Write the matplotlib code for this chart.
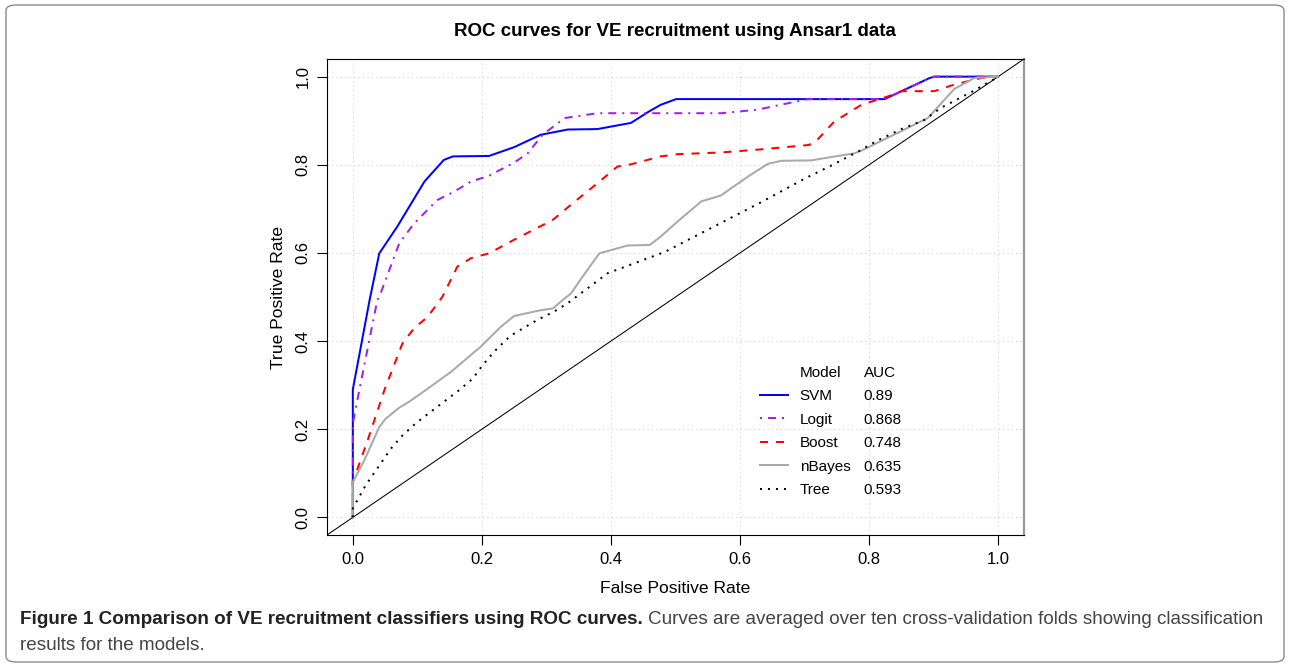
import matplotlib
matplotlib.use("Agg")
import matplotlib.pyplot as plt
from matplotlib.patches import FancyBboxPatch
from matplotlib.lines import Line2D

# ── data ──────────────────────────────────────────────────────────────────────
svm_fpr = [0, 0, 0.026, 0.041, 0.069, 0.111, 0.141, 0.155, 0.211, 0.25, 0.291,
           0.333, 0.379, 0.431, 0.459, 0.477, 0.501, 0.824, 0.894, 0.901, 1.0]
svm_tpr = [0, 0.29, 0.493, 0.599, 0.66, 0.762, 0.811, 0.819, 0.82, 0.84, 0.868,
           0.88, 0.881, 0.895, 0.921, 0.936, 0.949, 0.949, 0.997, 1.0, 1.0]

logit_fpr = [0, 0, 0.007, 0.038, 0.043, 0.072, 0.095, 0.131, 0.157, 0.183, 0.211,
             0.25, 0.271, 0.294, 0.328, 0.379, 0.477, 0.571, 0.627, 0.705, 0.824,
             0.894, 0.901, 1.0]
logit_tpr = [0, 0.213, 0.266, 0.493, 0.508, 0.622, 0.667, 0.72, 0.739, 0.762, 0.775,
             0.805, 0.826, 0.868, 0.906, 0.917, 0.917, 0.917, 0.925, 0.949, 0.949,
             0.997, 1.0, 1.0]

boost_fpr = [0, 0, 0.023, 0.049, 0.077, 0.095, 0.116, 0.139, 0.162, 0.183, 0.211,
             0.25, 0.31, 0.341, 0.379, 0.41, 0.431, 0.477, 0.503, 0.571, 0.633,
             0.707, 0.72, 0.746, 0.788, 0.829, 0.85, 0.901, 0.932, 0.974, 1.0]
boost_tpr = [0, 0.08, 0.175, 0.289, 0.395, 0.429, 0.455, 0.501, 0.569, 0.588, 0.599,
             0.63, 0.675, 0.713, 0.758, 0.796, 0.801, 0.819, 0.824, 0.828, 0.835,
             0.845, 0.857, 0.898, 0.936, 0.955, 0.967, 0.967, 0.982, 0.997, 1.0]

nbayes_fpr = [0, 0, 0.018, 0.041, 0.051, 0.072, 0.087, 0.116, 0.152, 0.198, 0.229,
              0.25, 0.291, 0.31, 0.325, 0.338, 0.356, 0.382, 0.426, 0.46, 0.477,
              0.503, 0.54, 0.57, 0.612, 0.643, 0.664, 0.71, 0.777, 0.788, 0.891,
              0.912, 0.932, 0.963, 1.0]
nbayes_tpr = [0, 0.08, 0.13, 0.205, 0.224, 0.249, 0.262, 0.292, 0.33, 0.387, 0.432,
              0.457, 0.47, 0.474, 0.493, 0.508, 0.546, 0.599, 0.617, 0.618, 0.637,
              0.671, 0.717, 0.73, 0.773, 0.802, 0.809, 0.81, 0.826, 0.832, 0.906,
              0.94, 0.972, 0.997, 1.0]

tree_fpr = [0, 0, 0.007, 0.02, 0.036, 0.059, 0.077, 0.098, 0.131, 0.165, 0.186,
            0.201, 0.219, 0.24, 0.25, 0.286, 0.312, 0.333, 0.395, 0.483, 0.63,
            0.702, 0.741, 0.788, 0.813, 0.85, 0.886, 0.911, 0.961, 0.997, 1.0]
tree_tpr = [0, 0.02, 0.039, 0.073, 0.107, 0.156, 0.186, 0.214, 0.251, 0.289, 0.315,
            0.345, 0.376, 0.406, 0.417, 0.448, 0.467, 0.486, 0.554, 0.602, 0.713,
            0.77, 0.798, 0.834, 0.855, 0.881, 0.902, 0.929, 0.967, 0.997, 1.0]

models = ["SVM", "Logit", "Boost", "nBayes", "Tree"]
aucs   = ["0.89", "0.868", "0.748", "0.635", "0.593"]
ticks  = [0.0, 0.2, 0.4, 0.6, 0.8, 1.0]

# ── styles ────────────────────────────────────────────────────────────────────
LW = 1.44
styles = {
    "SVM":    dict(color="#0000FF", linestyle="-"),
    "Logit":  dict(color="#A020F0", linestyle=(0, (1, 3, 4, 3))),
    "Boost":  dict(color="#FF0000", linestyle=(0, (4, 4))),
    "nBayes": dict(color="#A9A9A9", linestyle="-"),
    "Tree":   dict(color="#000000", linestyle=(0, (1, 3))),
}
curves = {
    "SVM":    (svm_fpr, svm_tpr),
    "Logit":  (logit_fpr, logit_tpr),
    "Boost":  (boost_fpr, boost_tpr),
    "nBayes": (nbayes_fpr, nbayes_tpr),
    "Tree":   (tree_fpr, tree_tpr),
}

plt.rcParams["font.family"] = ["Liberation Sans", "DejaVu Sans"]

fig = plt.figure(figsize=(12.9, 6.67), dpi=100)
ax = fig.add_axes([327 / 1290, 1 - 535 / 667, 697 / 1290, 476 / 667])

# outer rounded frame
frame = FancyBboxPatch((6 / 1290, 5 / 667), 1278 / 1290, 657 / 667,
                       boxstyle="round,pad=0,rounding_size=0.008",
                       transform=fig.transFigure, facecolor="none",
                       edgecolor="#8a8a8a", linewidth=1.0)
fig.patches.append(frame)

ax.set_xlim(-0.04, 1.04)
ax.set_ylim(-0.04, 1.04)
for t in ticks:
    ax.axvline(t, color="#D3D3D3", linewidth=0.8, linestyle=(0, (1, 3)), zorder=0)
    ax.axhline(t, color="#D3D3D3", linewidth=0.8, linestyle=(0, (1, 3)), zorder=0)

ax.axline((0, 0), (1, 1), color="black", linewidth=0.75, zorder=1)

for m in models:
    x, y = curves[m]
    ax.plot(x, y, linewidth=LW, zorder=2, **styles[m])

ax.set_xticks(ticks)
ax.set_yticks(ticks)
ax.set_xticklabels([f"{t:.1f}" for t in ticks])
ax.set_yticklabels([f"{t:.1f}" for t in ticks], rotation=90, va="center")
ax.tick_params(direction="out", length=7, width=0.8, labelsize=12, pad=5,
               colors="black")
for s in ["left", "bottom", "top"]:
    ax.spines[s].set_linewidth(0.8)
ax.spines["right"].set_color("#999999")
ax.spines["right"].set_linewidth(1.6)

ax.set_xlabel("False Positive Rate", fontsize=12.6, labelpad=10)
ax.set_ylabel("True Positive Rate", fontsize=12.6, labelpad=7)
fig.text(675 / 1290, 1 - 31 / 667, "ROC curves for VE recruitment using Ansar1 data",
         ha="center", va="center", fontsize=13.5, fontweight="bold")

# legend: header row + one row per model, AUC column attached to each label
handles = [Line2D([], [], linestyle="none")] + \
          [Line2D([], [], linewidth=LW, **styles[m]) for m in models]
leg = ax.legend(handles, ["Model"] + models, loc="upper left",
                bbox_to_anchor=(752 / 1290, 1 - 358 / 667),
                bbox_transform=fig.transFigure, frameon=False, fontsize=11,
                handlelength=1.85, handletextpad=0.78, labelspacing=0.62,
                borderpad=0)
for txt, val in zip(leg.get_texts(), ["AUC"] + aucs):
    ax.annotate(val, xy=(0, 0), xycoords=txt, xytext=(64, 0),
                textcoords="offset pixels", fontsize=11, ha="left", va="bottom")

# caption
fig.canvas.draw()
renderer = fig.canvas.get_renderer()
b = fig.text(20 / 1290, 1 - 620 / 667,
             "Figure 1 Comparison of VE recruitment classifiers using ROC curves.",
             fontsize=13.6, fontweight="bold", color="#222222",
             va="center", ha="left")
bb = b.get_window_extent(renderer)
fig.text((bb.x1 + 5) / 1290, 1 - 620 / 667,
         "Curves are averaged over ten cross-validation folds showing classification",
         fontsize=13.6, color="#444444", va="center", ha="left")
fig.text(20 / 1290, 1 - 646 / 667, "results for the models.",
         fontsize=13.6, color="#444444", va="center", ha="left")

fig.savefig("out.png", dpi=100)
